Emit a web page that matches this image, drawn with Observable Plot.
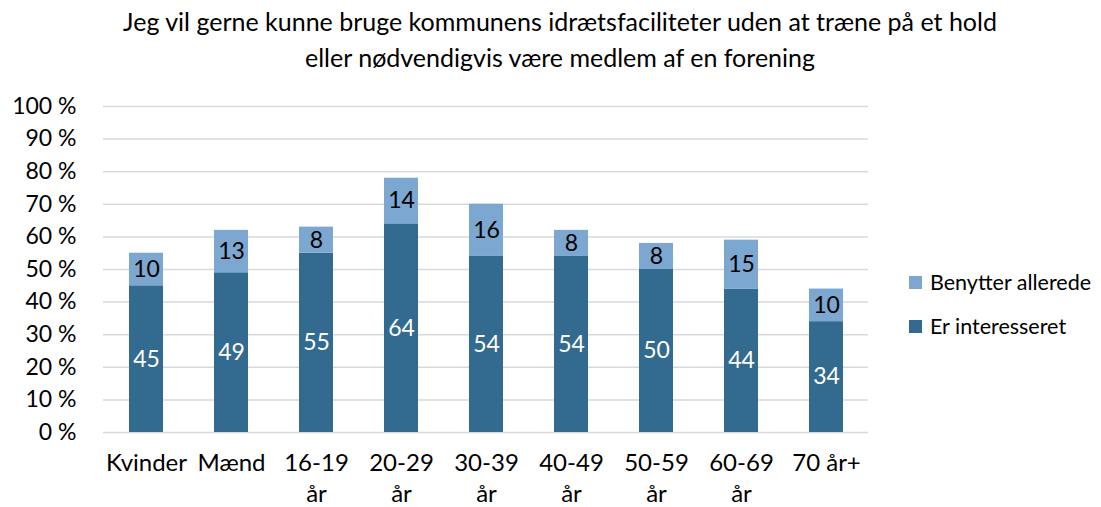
<!DOCTYPE html>
<html>
<head>
<meta charset="utf-8">
<script src="https://cdn.jsdelivr.net/npm/d3@7"></script>
<script src="https://cdn.jsdelivr.net/npm/@observablehq/plot@0.6"></script>
<style>
  html, body { margin: 0; padding: 0; background: #fff; }
  #wrap { position: relative; width: 1101px; height: 507px; font-family: Lato, "Open Sans", sans-serif; overflow: hidden; }
  #title { position: absolute; left: 0; top: 3px; width: 1120px; text-align: center; font-size: 25px; line-height: 36px; color: #000; }
  #chart { position: absolute; left: 0; top: 90px; }
  #legend { position: absolute; left: 909px; top: 267px; font-size: 21.5px; color: #000; }
  .li { display: flex; align-items: center; height: 30px; margin-bottom: 14px; }
  .sw { width: 13px; height: 13px; margin-right: 8px; }
</style>
</head>
<body>
<div id="wrap">
  <div id="title">Jeg vil gerne kunne bruge kommunens idrætsfaciliteter uden at træne på et hold<br>eller nødvendigvis være medlem af en forening</div>
  <div id="chart"></div>
  <div id="legend"></div>
</div>
<script>
const categories = ["Kvinder","Mænd","16-19 år","20-29 år","30-39 år","40-49 år","50-59 år","60-69 år","70 år+"];
const tickLabels = ["Kvinder","Mænd","16-19\når","20-29\når","30-39\når","40-49\når","50-59\når","60-69\når","70 år+"];
const interested = [45,49,55,64,54,54,50,44,34];
const already = [10,13,8,14,16,8,8,15,10];
const seriesNames = ["Er interesseret","Benytter allerede"];
const seriesColors = ["#336a90","#7ba7d1"];
const labelColors = ["#ffffff","#000000"];
const yTicks = [0,10,20,30,40,50,60,70,80,90,100];

const rows = [];
categories.forEach((c, i) => {
  rows.push({cat: c, series: seriesNames[0], value: interested[i]});
  rows.push({cat: c, series: seriesNames[1], value: already[i]});
});

const chart = Plot.plot({
  width: 1101,
  height: 417,
  marginLeft: 103,
  marginRight: 233,
  marginTop: 16,
  marginBottom: 75,
  style: {fontFamily: "Lato, 'Open Sans', sans-serif", fontSize: "22px", color: "#000", background: "#fff", overflow: "visible"},
  x: {domain: categories, paddingInner: 0.6, paddingOuter: 0.3, label: null},
  y: {domain: [0, 100], label: null},
  color: {domain: seriesNames, range: seriesColors},
  marks: [
    Plot.gridY(yTicks, {stroke: "#d9d9d9", strokeOpacity: 1, strokeWidth: 1.5}),
    Plot.axisY(yTicks, {tickSize: 0, tickPadding: 27, tickFormat: d => d + " %", fontSize: 23, label: null}),
    Plot.axisX({tickSize: 0, tickPadding: 16, tickFormat: d => tickLabels[categories.indexOf(d)], fontSize: 24, lineHeight: 1.3, label: null}),
    Plot.barY(rows, {x: "cat", y: "value", fill: "series", order: seriesNames}),
    Plot.text(rows, Plot.stackY({x: "cat", y: "value", z: "series", order: seriesNames, text: "value", fontSize: 23,
      fill: d => labelColors[seriesNames.indexOf(d.series)]}))
  ]
});
document.getElementById("chart").appendChild(chart);

const legend = document.getElementById("legend");
[1, 0].forEach(i => {
  const row = document.createElement("div");
  row.className = "li";
  const sw = document.createElement("div");
  sw.className = "sw";
  sw.style.background = seriesColors[i];
  const t = document.createElement("span");
  t.textContent = seriesNames[i];
  row.appendChild(sw); row.appendChild(t);
  legend.appendChild(row);
});
</script>
</body>
</html>
